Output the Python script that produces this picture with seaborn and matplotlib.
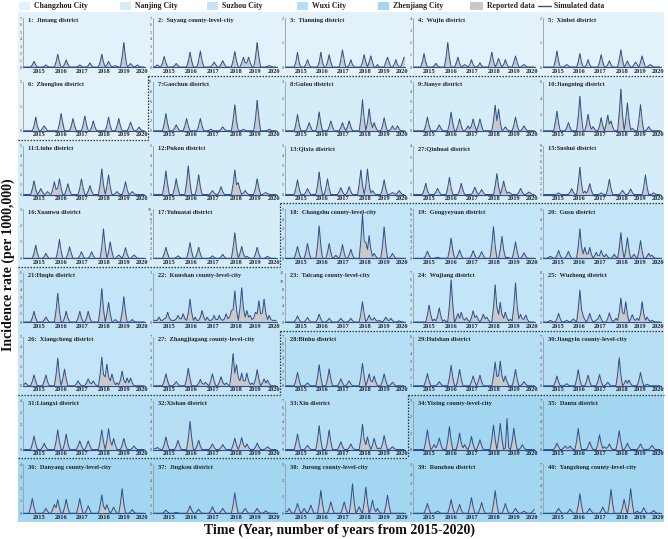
import numpy as np
import matplotlib
matplotlib.use("Agg")
import matplotlib.pyplot as plt
from matplotlib.patches import Rectangle
import seaborn as sns

sns.set_theme(style="white")
plt.rcParams['font.family'] = ['Liberation Serif', 'DejaVu Serif']

# ---- data ----
years = ['2015', '2016', '2017', '2018', '2019', '2020']
year_pos = [9, 21.8, 34.5, 47.6, 59, 70]   # month index under each year label

cities = ['Changzhou City', 'Nanjing City', 'Suzhou City', 'Wuxi City', 'Zhenjiang City']
city_colors = ['#e3f2fa', '#d5edf9', '#c4e5f7', '#b6dff5', '#a3d6f1']

titles = [
    '1:  Jintang district', '2:  Suyang county-level-city', '3:  Tianning district',
    '4:  Wujin district', '5:  Xinbei district', '6:  Zhonglou district',
    '7:Gaochun district', '8:Gulou district', '9:Jianye district', '10:Jiangning district',
    '11:Liuhe district', '12:Pukou district', '13:Qixia district', '27:Qinhuai district',
    '15:Sushui district', '16:Xuanwu district', '17:Yuhuatai district',
    '18:  Changshu county-level-city', '19:  Gongyeyuan district', '20:  Gusu district',
    '21:Huqiu district', '22:  Kunshan county-level-city', '23:  Taicang county-level-city',
    '24:  Wujiang district', '25:  Wuzhong district', '26:  Xiangcheng district',
    '27:  Zhangjiagang county-level-city',
    '28:Binhu district', '29:Huishan district', '30:Jiangyin county-level-city',
    '31:Liangxi district', '32:Xishan district', '33:Xin district', '34:Yixing county-level-city',
    '35:  Dantu district', '36:  Danyang county-level-city', '37:  Jingkou district',
    '38:  Jurong county-level-city', '39:  Runzhou district', '40:  Yangzhong county-level-city',
]
ymax = [7, 7, 2, 4, 2, 2, 10, 3, 5, 6,
        5, 5, 5, 4, 9, 3, 10, 5, 9, 5,
        6, 3, 12, 7, 8, 5, 7, 7, 6, 7,
        4, 7, 7, 3, 7, 4, 6, 3, 5, 7]
ystep = [1, 1, 1, 1, 1, 1, 2, 1, 1, 2,
         1, 1, 1, 1, 1, 1, 1, 1, 1, 1,
         1, 1, 2, 1, 1, 1, 1, 1, 1, 1,
         1, 1, 1, 1, 1, 1, 1, 1, 1, 1]
# background colour group of each panel (as drawn in the figure)
bg_group = [0]*6 + [1]*11 + [2]*10 + [3]*6 + [4]*7

# monthly incidence (Jan 2015 ... Dec 2020)
changzhou_rates = [
    [0,0,0,0,0,0.3,0.8,0.3,0,0,0,0, 0.1,0.3,0.1,0,0,0,0,0.7,1.8,0.7,0,0,
     0.4,1.0,0.4,0,0,0,0,0,0.1,0.3,0.1,0, 0,0,0.2,0.6,0.2,0,0,0,0,0.7,1.8,0.7,
     0,0.3,0.8,0.3,0,0.1,0.2,0.1,0,0,1.4,3.5, 1.4,0,0.2,0.5,0.2,0,0.1,0.3,0.1,0,0,0],
    [0,0.1,0.3,0.1,0,0.6,1.5,0.6,0,0,0,0, 0.2,0.5,0.2,0,0,0,0,0,0.8,2.1,0.8,0,
     0,0,0.9,2.3,0.9,0,0,0,0,0,0.3,0.7, 0.3,0,0,0.4,0.9,0.4,0,0,0,0,0.9,2.2,
     0.9,0,0,0.6,1.4,0.6,0.6,1.4,0.6,0,0,1.4, 3.5,1.4,0,0,0,0,0.1,0.2,0.1,0,0,0],
    [0,0,0,0,0,0,0.2,0.6,0.2,0,0,0, 0.1,0.3,0.1,0,0,0,0,0,0.2,0.6,0.2,0,
     0,0.2,0.5,0.2,0,0,0,0,0,0.3,0.7,0.3, 0,0,0.1,0.3,0.1,0,0,0,0,0,0.2,0.5,
     0.2,0,0.2,0.45,0.2,0,0,0.1,0,0,0,0, 0.2,0.4,0.2,0,0,0.1,0.3,0.1,0,0,0.2,0.4],
    [0,0,0,0,0,0.4,1.1,0.4,0,0,0,0, 0.1,0.3,0.1,0,0,0,0,0.8,2.0,0.8,0,0,
     0,0.3,0.8,0.3,0,0.1,0.2,0.1,0,0.2,0.6,0.2, 0,0,0.1,0.35,0.1,0,0,0,0,0.5,1.2,0.5,
     0,0.3,0.7,0.3,0,0.2,0.6,0.2,0,0,0,0.4, 0.9,0.4,0,0,0.1,0.2,0.1,0,0,0,0,0],
    [0,0,0,0,0,0,0,0.25,0.65,0.25,0,0, 0,0.05,0.1,0.05,0,0,0,0,0,0.2,0.55,0.2,
     0,0,0.1,0.3,0.1,0,0,0,0,0,0.2,0.5, 0.2,0,0,0.1,0.25,0.1,0,0,0,0,0.3,0.7,
     0.3,0,0.1,0.25,0.1,0,0,0.1,0.2,0.1,0,0.2, 0.45,0.2,0,0,0.05,0.1,0.05,0,0,0,0,0],
    [0,0,0,0,0,0,0.2,0.55,0.2,0,0,0.1, 0.2,0.1,0,0,0,0,0,0,0,0.3,0.7,0.3,
     0,0,0,0,0.2,0.5,0.2,0,0,0,0,0.25, 0.6,0.25,0,0,0.15,0.4,0.15,0,0,0,0,0,
     0,0.2,0.55,0.2,0,0,0,0.2,0.5,0.2,0,0, 0,0,0.15,0.35,0.15,0,0,0.05,0.15,0.05,0,0],
]
nanjing_rates = [
    [0,0,0,0,0,0,1.4,3.5,1.4,0,0,0, 0.5,1.2,0.5,0,0,0,1.0,2.5,1.0,0,0,0,
     0,0,1.0,2.5,1.0,0,0,0,0.1,0.3,0.1,0, 0,0,0,0.3,0.8,0.3,0,0,0,0,2.1,5.3,
     2.1,0,0,0.1,0.3,0.1,0,0,0,0,0,2.5, 6.2,2.5,0,0,0,0,0.1,0.3,0.1,0,0,0],
    [0,0,0,0,0,0,0.4,1.0,0.4,0,0,0, 0,0.2,0.5,0.2,0,0,0,0.45,1.15,0.45,0,0,
     0,0,0.25,0.6,0.25,0,0,0,0,0.2,0.5,0.2, 0,0.25,0.6,0.25,0,0,0,0,0,0.75,1.9,0.75,
     0,0.55,1.35,0.55,0.2,0.5,0.2,0,0,0,0.3,0.8, 0.3,0,0,0.1,0.3,0.1,0.1,0.3,0.1,0,0,0],
    [0,0,0,0,0,0,0,0.55,1.4,0.55,0,0, 0,0,0.25,0.6,0.25,0,0,0,0,0.75,1.9,0.75,
     0,0,0.5,1.2,0.5,0,0,0.2,0.5,0.2,0.5,1.2, 0.5,0,0.5,1.2,0.5,0,0,0,0,0,0,1.0,
     2.6,1.0,2.2,0.9,0,0.15,0.4,0.15,0,0,0,0.55, 1.4,0.55,0,0,0.2,0.5,0.2,0,0,0,0,0],
    [0,0,0,0,0,0,0,1.0,2.4,1.0,0,0, 0,0,0.4,1.0,0.4,0,0,0,0,1.7,4.2,1.7,
     0,0,0.8,2.0,0.8,0.2,0.5,0.2,0,0,0.6,1.6, 0.6,0,0.8,1.9,0.8,1.2,0.5,0,0,0,2.0,5.1,
     2.0,0,1.4,3.4,1.4,0.1,0.3,0.1,0,0,1.3,3.2, 1.3,0,0,0.2,0.5,0.2,0,0,0,0,0,0],
    [0,0,0,0,0,0.55,1.4,0.55,0,0.25,0.6,0.25, 0,0.1,0.3,0.1,0,0.5,1.3,0.5,0.65,1.6,0.65,0,
     0,0.45,1.1,0.45,0,0,0,0,0,0.65,1.6,0.65, 0,0,0.35,0.9,0.35,0,0,0,0,1.0,2.6,1.0,
     0,0.8,2.0,0.8,0,0,0.1,0.3,0.1,0,0,0.5, 1.3,0.5,0,0.1,0.3,0.1,0,0,0,0,0,0],
    [0,0,0,0,0,0,1.0,2.4,1.0,0,0,0, 0.65,1.6,0.65,0,0,0,0,1.2,2.9,1.2,0,0,
     0,0.8,2.0,0.8,0,0,0,0,0,0.15,0.4,0.15, 0,0,0.3,0.8,0.3,0,0,0,0,0,1.0,2.5,
     1.0,1.2,0.5,0,0.15,0.4,0.15,0,0,0,0,0.65, 1.6,0.65,0,0,0.1,0.2,0.1,0,0,0,0,0],
    [0,0,0,0,0,0,0.6,1.5,0.6,0,0,0, 0.25,0.6,0.25,0,0,0,0,0.9,2.3,0.9,0,0,
     0.65,1.6,0.65,0,0,0,0,0,0.3,0.7,0.3,0, 0,0.3,0.8,0.3,0,0,0,0,1.0,2.5,1.0,0,
     1.0,2.6,1.0,0.15,0.4,0.15,0,0,0,0,0.6,1.5, 0.6,0,0,0.1,0.2,0.1,0,0.15,0.4,0.15,0,0],
    [0,0,0,0,0,0,0.35,0.9,0.35,0,0,0, 0,0.2,0.5,0.2,0,0,0,0,0.55,1.4,0.55,0,
     0,0,0,0.35,0.9,0.35,0,0,0,0,0,0.25, 0.6,0.25,0,0.15,0.4,0.15,0,0,0,0,0,0,
     0.7,1.7,0.7,0,0.45,1.1,0.45,0.1,0.2,0.1,0,0, 0,0,0.2,0.5,0.2,0,0,0.1,0.2,0.1,0,0],
    [0,0,0,0,0,0,0,0,0.1,0.3,0.1,0, 0,0,0,0,0.45,1.1,0.45,0,0,2.0,5.0,2.0,
     0.25,0.6,0.25,0.8,2.0,0.8,0,0,0,0,0.1,0.3, 0.1,0,0,1.1,2.8,1.1,0,0,0,0,0,0.3,
     0.8,0.3,0,0,0.4,1.0,0.4,0,0,0,0,0, 0,1.4,3.6,1.4,0,0,0.1,0.3,0.1,0,0,0],
    [0,0,0,0,0,0,0.3,0.8,0.3,0,0,0, 0.1,0.3,0.1,0,0,0,0,0,0.45,1.15,0.45,0,
     0,0,0.3,0.7,0.3,0,0,0,0,0.15,0.4,0.15, 0,0,0,0.15,0.4,0.15,0,0,0,0,0.7,1.8,
     0.7,0,0.4,1.0,0.4,0,0,0.1,0.2,0.1,0,0.25, 0.65,0.25,0,0,0.1,0.2,0.1,0,0,0,0,0],
    [0,0,0,0,0,0,0.9,2.2,0.9,0,0,0, 0,0.2,0.5,0.2,0,0,0,0,1.3,3.2,1.3,0,
     0,0.9,2.2,0.9,0,0,0,0,0,0.2,0.5,0.2, 0,0,0,0.3,0.8,0.3,0,0,0,0,2.1,5.2,
     2.1,0,1.0,2.4,1.0,0.15,0.4,0.15,0,0,0,0.9, 2.2,0.9,0,0,0,0.15,0.4,0.15,0,0,0,0],
]
suzhou_rates = [
    [0,0,0,0,0,0,0.5,1.2,0.5,0,0,0, 0.6,1.5,0.6,0,0,0,0,1.3,3.3,1.3,0,0,
     0,0.6,1.5,0.6,0,0.1,0.3,0.1,0,0.55,1.4,0.55, 0,0,0.35,0.9,0.35,0,0,0,0,1.8,4.5,1.8,
     1.6,0.9,2.3,0.9,0.2,0.5,0.2,0,0,0,1.3,3.2, 1.3,0,0,0.2,0.5,0.2,0,0,0,0,0,0],
    [0,0,0,0,0,0,0,0.5,1.3,0.5,0,0, 0,0.1,0.2,0.1,0,0,0,0,0,1.5,3.7,1.5,
     0,0,0.6,1.5,0.6,0,0,0,0,0,0.55,1.4, 0.55,0,0,0.5,1.2,0.5,0,0,0,0,2.3,5.8,
     2.3,0,0,1.6,4.0,1.6,0.1,0.2,0.1,0,0,1.2, 3.0,1.2,0,0,0.4,1.0,0.4,0,0,0,0,0],
    [0,0,0,0.1,0.2,0.1,0,0,0.3,0.8,0.3,0, 0,0,0.3,0.7,0.3,0,0,0,0,1.2,3.0,1.2,
     0.45,1.1,0.45,0.45,1.1,0.45,0,0.25,0.6,0.25,0.3,0.8, 0.3,0.15,0.4,0.15,0,0,0.15,0.4,0.15,0,1.0,2.6,
     1.0,0,0.85,2.1,0.85,0,0.15,0.4,0.15,0,0.7,1.8, 0.7,0,0,0.2,0.5,0.2,0.3,0.1,0,0,0,0],
    [0,0,0,0,0,0.5,1.3,0.5,0,0,0,0, 0.25,0.6,0.25,0,0,0,0,1.4,3.5,1.4,0,0,
     0.5,1.3,0.5,0,0,0,0,0,0.5,1.3,0.5,0, 0,0.5,1.3,0.5,0,0,0,0,0,1.6,4.1,1.6,
     0,1.0,2.4,1.0,0,0.1,0.3,0.1,0,0,1.2,3.1, 1.2,0,0,0.1,0.3,0.1,0,0,0,0,0,0],
    [0.1,0.1,0.1,0.3,0.1,0.1,0.2,0.25,0.6,0.25,0.1,0.1, 0.1,0.2,0.4,0.2,0.2,0.5,0.2,0.1,0.55,1.4,0.55,0.1,
     0.3,0.1,0.1,0.3,0.7,0.3,0.1,0.3,0.1,0.1,0.15,0.4, 0.15,0.15,0.4,0.15,0.1,0.2,0.5,0.2,0.3,0.7,0.75,1.9,
     0.75,0.1,0.85,2.1,0.85,0.3,0.7,0.3,0.4,0.15,0.25,0.6, 0.5,1.3,0.5,0.55,1.4,0.55,0.15,0.4,0.15,0.1,0.1,0.1],
    [0,0,0,0,0,0,0.6,1.5,0.6,0,0,0, 0.45,1.1,0.45,0,0,0,0,0.75,1.9,0.75,0,0,
     0,0.35,0.9,0.35,0,0,0,0,0.35,0.9,0.35,0, 0,0,0.35,0.9,0.35,0,0,0,0,2.0,5.0,2.0,
     0,0.7,1.7,0.7,0.45,1.1,0.45,0.15,0.4,0.15,0,0.5, 1.2,0.5,0.35,0.9,0.35,0,0,0.1,0.3,0.1,0,0],
    [0,0,0,0,0,0,0,0,1.0,2.4,1.0,0.15, 0.4,0.15,0.8,2.0,0.8,0.1,0.3,0.1,0,2.4,6.0,2.4,
     0,0.5,1.2,0.55,1.4,0.55,0.25,0.6,0.25,0,0.65,1.6, 0.65,0.9,0.35,0,0.45,1.1,0.45,0.7,0.3,0,0,2.1,
     5.3,2.1,1.1,2.8,1.1,0.55,1.4,0.55,0.15,0.4,0.15,2.2, 5.6,2.2,0.45,1.1,0.45,0.4,1.0,0.4,0,0,0,0],
    [0,0,0,0.1,0.3,0.1,0,0,0.55,1.4,0.55,0, 0,0.1,0.3,0.1,0,0.2,0.5,0.2,0,2.1,5.2,2.1,
     1.0,0.4,0,0.55,1.4,0.55,0,0.1,0.3,0.5,1.2,0.5, 0,0,0,0.6,1.5,0.6,0,0.25,0.6,0.25,1.55,3.9,
     1.55,1.3,3.3,1.3,0,0.5,1.2,0.5,0.25,0.6,0.25,1.3, 3.3,1.3,0.3,0.8,0.3,0.1,0.3,0.1,0,0,0,0],
    [0.1,0.3,0.1,0,0,0.45,1.1,0.45,0,0,0,0, 0.45,1.1,0.45,0,0,0,0,1.1,2.8,1.1,0,0.7,
     1.7,0.7,0,0,0,0,0,0.2,0.5,0.2,0,0, 0,0.3,0.7,0.3,0.2,0.5,0.2,0,0,1.15,2.9,1.15,
     0.9,2.2,0.9,0.5,1.2,0.5,0.1,0.3,0.1,0.6,1.5,0.6, 0.3,0.8,0.3,0.8,0.3,0,0,0,0,0,0,0],
    [0,0,0,0,0,0,0.7,1.7,0.7,0,0,0, 0.25,0.6,0.25,0,0,0,0,1.0,2.5,1.0,0,0,
     0,0,0.35,0.9,0.35,0.2,0.5,0.2,0,0.7,1.7,0.7, 0,0,0.5,1.3,0.5,0.15,0.4,0.15,0,1.8,4.6,1.8,
     3.0,1.2,0.7,1.8,0.7,0.7,1.8,0.7,0.15,0.4,0.15,0.9, 2.3,0.9,0,0.4,1.0,0.4,0.8,0.3,0,0,0,0],
]
wuxi_rates = [
    [0,0,0,0,0,0,0.75,1.9,0.75,0,0,0, 0.15,0.4,0.15,0,0,0,0,1.2,3.0,1.2,0,0,
     0,0.95,2.4,0.95,0,0,0,0,0.4,1.0,0.4,0, 0,0.3,0.7,0.3,0,0,0,0,0,1.3,3.2,1.3,
     0,0.7,1.7,0.7,0.55,1.4,0.55,0,0,0,0.7,1.7, 0.7,0,0,0.2,0.5,0.2,0,0,0,0,0,0],
    [0,0,0,0,0,0,0,0.6,1.5,0.6,0,0, 0,0,0.2,0.5,0.2,0,0,0,0,1.0,2.5,1.0,
     0,0,0.8,2.0,0.8,0,0,0,0,0,0.5,1.2, 0.5,0,0.5,1.3,0.5,0,0,0,0,0,0,1.15,
     2.9,1.15,1.2,3.0,1.2,0.5,1.2,0.5,0,0,0,0.8, 2.0,0.8,0,0,0.2,0.5,0.2,0,0,0,0,0],
    [0,0,0,0,0,0,0,0.55,1.4,0.55,0,0, 0,0.1,0.3,0.1,0,0,0,0,0.9,2.3,0.9,0,
     0,0,0.6,1.5,0.6,0,0,0,0,0.65,1.6,0.65, 0,0,0.2,0.5,0.2,0,0,0,0,1.6,4.0,1.6,
     0,0.3,0.8,0.35,0.8,0.3,0,0,0,0,0.75,1.9, 0.75,0,0.1,0.2,0.1,0,0,0,0,0,0,0],
    [0,0,0,0,0,0.45,1.1,0.45,0,0,0,0.2, 0.5,0.2,0,0,0,0,0,0.65,1.6,0.65,0,0,
     0.5,1.25,0.5,0,0,0,0,0,0.3,0.7,0.3,0, 0,0.3,0.7,0.3,0,0,0,0,0,0.65,1.6,0.65,
     0,0.7,1.7,0.7,0.35,0.9,0.35,0,0,0,0.35,0.9, 0.35,0,0,0,0.1,0.3,0.1,0,0,0,0,0],
    [0.1,0.1,0.3,0.1,0,0,0.7,1.8,0.7,0,0,0, 0,0.5,1.3,0.5,0,0,0,0,1.6,4.0,1.6,0,
     0,0.5,1.3,0.5,0,0,0,0,0,0.3,0.8,0.3, 0,0,0,0.3,0.7,0.3,0,0,0,0,0.65,1.6,
     0.65,0,0.7,1.7,0.7,0.3,0.8,0.3,0,0,0,0.35, 0.9,0.35,0,0,0,0.15,0.4,0.15,0,0,0,0],
    [0,0,0,0,0,0,0.9,2.2,0.9,0,0,0, 0.25,0.6,0.25,0,0,0,0,1.35,3.4,1.35,0,0,
     0,1.1,2.8,1.1,0,0,0,0,0.45,1.1,0.45,0, 0,0,0.3,0.8,0.3,0,0,0,0,1.45,3.6,1.45,
     0.7,1.8,0.7,0,0.65,1.6,0.65,0.1,0.2,0.1,0.8,2.0, 0.8,0,0,0.15,0.4,0.15,0,0,0,0,0,0],
    [0,0,0,0,0,0,0,0.5,1.2,0.5,0,0.1, 0.3,0.1,0.3,0.7,0.3,0,0,0,0.55,1.4,0.55,0,
     0,0,0.4,1.0,0.4,0.1,0.3,0.1,0,0.3,0.8,0.3, 0,0,0.25,0.6,0.25,0,0,0,0,0,0.6,1.5,
     0.6,0,0.65,1.6,0.65,0,0.1,1.9,0.1,0,0.5,1.3, 0.5,0,0,0.1,0.3,0.1,0,0,0,0,0,0],
]
zhenjiang_rates = [
    [0,0,0,0,0,0,0,0.35,0.9,0.35,0,0, 0.2,0.5,0.2,0.2,0.5,0.2,0,0,1.2,3.0,1.2,0,
     0,0,0,0.45,1.1,0.45,0,0,0,0.85,2.1,0.85, 0.15,0.4,0.15,0.3,0.8,0.3,0,0,0,1.1,2.7,1.1,
     0,0,0.35,0.9,0.35,0,0,0,0,0,0.3,0.8, 0.3,0,0,0,0,0.25,0.6,0.25,0,0,0,0],
    [0,0,0,0,0.5,1.2,0.5,0,0,0,0,0, 0.15,0.4,0.15,0,0,0.3,0.7,0.45,1.1,0.45,0,0,
     0.45,1.15,0.45,0,0,0,0,0,0.5,1.2,0.5,0, 0,0.25,0.6,0.25,0,0,0,0,0,0.6,1.5,0.6,
     0.3,0.7,0.3,0,0.2,0.5,0.2,0,0,0.8,2.0,0.8, 0,0,0,0.1,0.3,0.1,0,0,0,0,0,0],
    [0,0,0,0,0,0,0.15,0.4,0.15,0,0,0, 0.05,0.1,0.05,0,0,0,0,0,0.35,0.9,0.35,0,
     0,0.2,0.5,0.2,0,0,0,0,0,0.3,0.8,0.3, 0,0,0,0.25,0.6,0.25,0,0,0,0,1.0,2.5,
     1.0,0,0,0,0.25,0.6,0.25,0,0,0,0,0.25, 0.6,0.25,0,0,0.1,0.3,0.1,0,0,0,0,0],
    [0.1,0.1,0.3,0.1,0,0,0.25,0.6,0.25,0,0.1,0.3, 0.1,0,0.2,0.5,0.2,0,0,0,0.55,1.4,0.55,0,
     0,0,0.3,0.7,0.3,0,0,0,0,0,0.3,0.7, 0.3,0,0,0.7,1.8,0.7,0,0.15,0.4,0.15,0,0.65,
     1.6,0.65,0,0.3,0.8,0.3,0.1,0.3,0.1,0,0,0, 0.45,1.1,0.45,0,0,0,0,0,0,0,0,0],
    [0,0,0,0,0,0,0,0.4,1.0,0.4,0,0, 0,0.1,0.2,0.1,0,0,0,0,0,0.55,1.4,0.55,
     0,0,0.35,0.9,0.35,0,0,0,0,0.65,1.6,0.65, 0,0,0,0.45,1.1,0.45,0,0,0,0,0,0.9,
     2.3,0.9,0,0,0,0.4,1.0,0.4,0,0,0,0.2, 0.5,0.2,0,0,0.1,0.2,0.1,0,0,0,0.15,0.4],
    [0,0,0,0,0,0,0,0,0.3,0.7,0.3,0, 0,0,0,0.25,0.6,0.25,0,0,0,1.1,2.8,1.1,
     0,0,0,0.3,0.7,0.3,0,0,0,0,0,0.35, 0.9,0.35,0,0,1.35,3.4,1.35,0,0,0,0,0,
     0.8,2.0,0.8,0,1.4,3.5,1.4,0,0.1,0.3,0.1,0, 0.3,0.8,0.3,0,0,0,0.15,0.4,0.15,0,0,0],
]
all_rates = changzhou_rates + nanjing_rates + suzhou_rates + wuxi_rates + zhenjiang_rates

# ---- layout (pixels) ----
W, H = 668, 539
fig = plt.figure(figsize=(W / 100, H / 100), dpi=100)
bg = fig.add_axes([0, 0, 1, 1], zorder=-5)
bg.set_xlim(0, W)
bg.set_ylim(H, 0)
bg.axis('off')

col_edges = [18, 148, 280, 408, 538, 664]
top, row_h = 12, 63.75
line_color = '#2e4f8e'
bar_color = '#c9c9c9'

for i, vals in enumerate(all_rates):
    r, c = divmod(i, 5)
    x0, x1 = col_edges[c], col_edges[c + 1]
    y0 = top + r * row_h
    bg.add_patch(Rectangle((x0, y0), x1 - x0, row_h, color=city_colors[bg_group[i]], lw=0))

    lx, rx = x0 + 5, x1 - 3
    ty, by = y0 + 6, y0 + 55
    ax = fig.add_axes([lx / W, 1 - by / H, (rx - lx) / W, (by - ty) / H])
    ax.set_facecolor('none')

    months = np.arange(len(vals))
    ax.bar(months, vals, width=1.0, color=bar_color, lw=0, zorder=1)
    sns.lineplot(x=months, y=vals, ax=ax, color=line_color, lw=0.7, zorder=3)

    ax.set_xlim(-0.5, 71.5)
    ax.set_ylim(0, ymax[i])
    ax.set_yticks(np.arange(0, ymax[i] + 1, ystep[i]))
    ax.set_xticks(year_pos)
    ax.set_xticklabels(years, fontsize=4.6, fontweight='bold', color='#222222')
    ax.tick_params(axis='x', length=0, pad=1.2)
    ax.tick_params(axis='y', length=0, pad=0.8, labelsize=3, colors='#333333')
    ax.set_xlabel('')
    ax.set_ylabel('')
    ax.grid(False)
    for s in ['top', 'right']:
        ax.spines[s].set_visible(False)
    ax.spines['left'].set_color('#9a9a9a')
    ax.spines['left'].set_linewidth(0.6)
    ax.spines['bottom'].set_color(line_color)
    ax.spines['bottom'].set_linewidth(0.8)
    ax.text(0.04, 0.99, titles[i], transform=ax.transAxes, ha='left', va='top',
            fontsize=4.6, fontweight='bold', color='#222222')

# dotted borders between cities
r_ = [top + k * row_h for k in range(9)]
c_ = col_edges
borders = [
    ([c_[1], c_[5]], [r_[1], r_[1]]), ([c_[1], c_[1]], [r_[1], r_[2]]), ([c_[0], c_[1]], [r_[2], r_[2]]),
    ([c_[2], c_[5]], [r_[3], r_[3]]), ([c_[2], c_[2]], [r_[3], r_[4]]), ([c_[0], c_[2]], [r_[4], r_[4]]),
    ([c_[2], c_[5]], [r_[5], r_[5]]), ([c_[2], c_[2]], [r_[5], r_[6]]), ([c_[0], c_[2]], [r_[6], r_[6]]),
    ([c_[3], c_[5]], [r_[6], r_[6]]), ([c_[3], c_[3]], [r_[6], r_[7]]), ([c_[0], c_[3]], [r_[7], r_[7]]),
]
for xs, ys in borders:
    bg.plot(xs, ys, ls=(0, (1.2, 1.2)), color='#333333', lw=0.9)

# legend row
leg_x = [19, 120, 207, 297, 378]
for name, col, lx in zip(cities, city_colors, leg_x):
    bg.add_patch(Rectangle((lx, 1.5), 11, 8, color=col, lw=0))
    bg.text(lx + 15, 6, name, fontsize=5.6, fontweight='bold', va='center', color='#222222')
bg.add_patch(Rectangle((470, 1.5), 13, 8, color=bar_color, lw=0))
bg.text(487, 6, 'Reported data', fontsize=5.6, fontweight='bold', va='center', color='#222222')
bg.plot([538, 551], [6, 6], color=line_color, lw=1.0)
bg.text(554, 6, 'Simulated data', fontsize=5.6, fontweight='bold', va='center', color='#222222')

bg.text(340, 530, 'Time (Year, number of years from 2015-2020)', fontsize=10, fontweight='bold',
        ha='center', va='center', color='#111111')
bg.text(8, 265, 'Incidence rate (per 1000,000)', fontsize=10, fontweight='bold',
        ha='center', va='center', rotation=90, color='#111111')

fig.savefig('out.png', dpi=100)
